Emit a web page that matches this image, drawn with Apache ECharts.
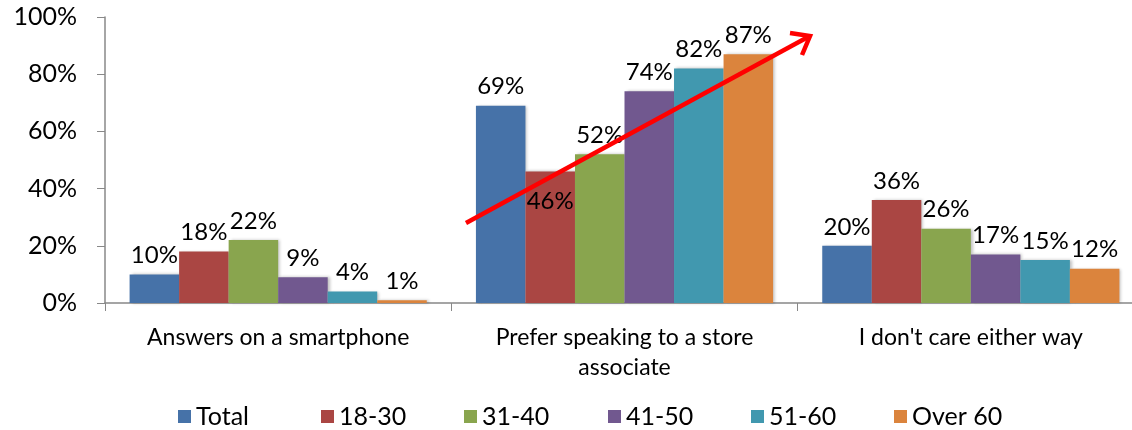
<!DOCTYPE html>
<html><head><meta charset="utf-8">
<script src="https://cdn.jsdelivr.net/npm/echarts@6/dist/echarts.min.js"></script>
<style>html,body{margin:0;padding:0;background:#fff;overflow:hidden}#c{width:1144px;height:430px}</style>
</head><body><div id="c"></div>
<script>
const categories = ['Answers on a smartphone', 'Prefer speaking to a store\nassociate', "I don't care either way"];
const seriesNames = ['Total', '18-30', '31-40', '41-50', '51-60', 'Over 60'];
const total = [10, 69, 20];
const age18to30 = [18, 46, 36];
const age31to40 = [22, 52, 26];
const age41to50 = [9, 74, 17];
const age51to60 = [4, 82, 15];
const over60 = [1, 87, 12];
const yTicks = [0, 20, 40, 60, 80, 100];

const values = [total, age18to30, age31to40, age41to50, age51to60, over60];
const colors = ['#4672A8', '#AA4643', '#89A54E', '#71588F', '#4198AF', '#DB843D'];
const FONT = 'Lato';

const chart = echarts.init(document.getElementById('c'));
const series = seriesNames.map((name, i) => ({
  name, type: 'bar',
  barGap: 0, barCategoryGap: '14.2%',
  itemStyle: { color: colors[i], shadowColor: 'rgba(0,0,0,0.25)', shadowBlur: 3, shadowOffsetX: 2, shadowOffsetY: 0 },
  label: { show: true, position: 'top', distance: 7, color: '#000', fontSize: 24, fontFamily: FONT, formatter: '{c}%' },
  data: values[i].map((v, j) => {
    const d = { value: v };
    if (i === 1 && j === 1) d.label = { position: 'insideTop', distance: 18 };
    return d;
  })
}));

const legendStart = 173, legendStep = 143.2;
const legends = seriesNames.map((name, i) => ({
  top: 399, left: Math.round(legendStart + i * legendStep), itemWidth: 13, itemHeight: 13,
  icon: 'rect',
  textStyle: { fontSize: 25, fontFamily: FONT, color: '#000' },
  data: [name]
}));

chart.setOption({
  animation: false,
  textStyle: { fontFamily: FONT },
  grid: { left: 105, top: 17, bottom: 127, right: 0 },
  legend: legends,
  xAxis: {
    type: 'category', data: categories,
    axisLine: { lineStyle: { color: '#888', width: 1.5 } },
    axisTick: { show: true, length: 8, lineStyle: { color: '#888' } },
    axisLabel: { fontSize: 23, fontFamily: FONT, color: '#000', margin: 20, lineHeight: 30 }
  },
  yAxis: {
    type: 'value', min: yTicks[0], max: yTicks[yTicks.length - 1], interval: 20,
    splitLine: { show: false },
    axisLine: { show: true, lineStyle: { color: '#888', width: 1.5 } },
    axisTick: { show: true, length: 8, lineStyle: { color: '#888' } },
    axisLabel: { fontSize: 25, fontFamily: FONT, color: '#000', margin: 28, formatter: '{value}%' }
  },
  graphic: [
    { type: 'line', shape: { x1: 466, y1: 223, x2: 808, y2: 37 }, style: { stroke: '#FF0000', lineWidth: 4.5 }, z: 100 },
    { type: 'polyline', shape: { points: [[790, 33], [810, 36], [802, 55]] }, style: { stroke: '#FF0000', lineWidth: 4.5, fill: null, lineJoin: 'miter' }, z: 100 }
  ],
  series
});
</script></body></html>
